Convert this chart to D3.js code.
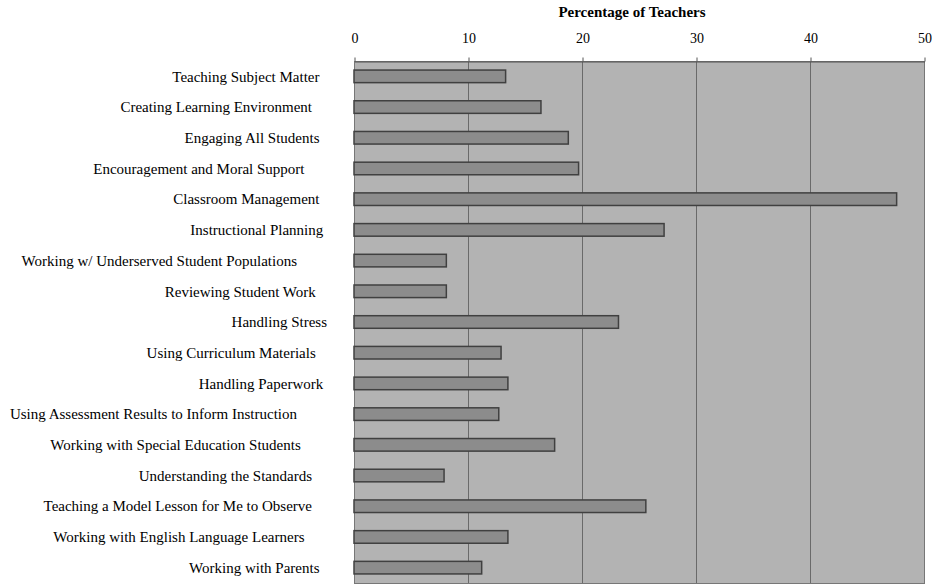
<!DOCTYPE html>
<html>
<head>
<meta charset="utf-8">
<script src="https://cdn.jsdelivr.net/npm/d3@7"></script>
<style>
  html, body { margin: 0; padding: 0; background: #fff; }
  svg { display: block; }
  text { font-family: "Liberation Serif", "Times New Roman", serif; fill: #000; }
  .cat { white-space: pre; }
</style>
</head>
<body>
<svg id="chart" width="932" height="584"></svg>
<script>
// Support areas named by teachers (category labels keep their trailing spaces)
const categories = [
  "Teaching Subject Matter  ",
  "Creating Learning Environment    ",
  "Engaging All Students  ",
  "Encouragement and Moral Support      ",
  "Classroom Management  ",
  "Instructional Planning ",
  "Working w/ Underserved Student Populations        ",
  "Reviewing Student Work   ",
  "Handling Stress",
  "Using Curriculum Materials   ",
  "Handling Paperwork ",
  "Using Assessment Results to Inform Instruction        ",
  "Working with Special Education Students       ",
  "Understanding the Standards    ",
  "Teaching a Model Lesson for Me to Observe    ",
  "Working with English Language Learners      ",
  "Working with Parents  "
];

// Percentage of teachers choosing each area
const percentages = [13.3, 16.4, 18.8, 19.7, 47.6, 27.2, 8.1, 8.1, 23.2, 12.9, 13.5, 12.7, 17.6, 7.9, 25.6, 13.5, 11.2];

const xTicks = [0, 10, 20, 30, 40, 50];
const axisTitle = "Percentage of Teachers";

const svg = d3.select("#chart");
const margin = { top: 61, left: 354 };
const plotRight = 924, plotBottom = 583;

const x = d3.scaleLinear().domain([0, 50]).range([margin.left, plotRight]);
const y = d3.scaleBand()
  .domain(categories)
  .range([margin.top, plotBottom])
  .paddingInner(0.59)
  .paddingOuter(0.295);

// plot background
svg.append("rect")
  .attr("x", x(0)).attr("y", margin.top)
  .attr("width", x(50) - x(0)).attr("height", plotBottom - margin.top)
  .attr("fill", "#b3b3b3");

// vertical gridlines
svg.append("g").selectAll("line")
  .data(xTicks.slice(1, -1))
  .join("line")
  .attr("x1", d => x(d) + 0.5).attr("x2", d => x(d) + 0.5)
  .attr("y1", margin.top).attr("y2", plotBottom)
  .attr("stroke", "#6a6a6a").attr("stroke-width", 1);

// frame
svg.append("rect")
  .attr("x", x(0) + 0.5).attr("y", margin.top + 0.5)
  .attr("width", x(50) - x(0)).attr("height", plotBottom - margin.top)
  .attr("fill", "none").attr("stroke", "#777").attr("stroke-width", 1);

// top axis
const xAxis = d3.axisTop(x).tickValues(xTicks).tickSize(4).tickSizeOuter(0).tickPadding(15);
const gx = svg.append("g").attr("transform", `translate(0.5,${margin.top + 0.5})`).call(xAxis);
gx.select(".domain").attr("stroke", "#555");
gx.selectAll(".tick line").attr("stroke", "#555");
gx.selectAll(".tick text")
  .attr("font-family", "Liberation Serif")
  .attr("font-size", 14)
  .attr("fill", "#000");

// axis title
svg.append("text")
  .attr("x", 632).attr("y", 17)
  .attr("text-anchor", "middle")
  .attr("font-size", 15)
  .attr("font-weight", "bold")
  .text(axisTitle);

// bars
svg.append("g").selectAll("rect")
  .data(categories)
  .join("rect")
  .attr("x", x(0))
  .attr("y", d => y(d))
  .attr("width", (d, i) => x(percentages[i]) - x(0))
  .attr("height", y.bandwidth())
  .attr("fill", "#8c8c8c")
  .attr("stroke", "#404040")
  .attr("stroke-width", 1.5);

// category labels
svg.append("g").selectAll("text")
  .data(categories)
  .join("text")
  .attr("class", "cat")
  .attr("x", 327)
  .attr("y", d => y(d) + y.bandwidth() / 2)
  .attr("dy", "0.35em")
  .attr("text-anchor", "end")
  .attr("font-size", 15)
  .text(d => d);
</script>
</body>
</html>
